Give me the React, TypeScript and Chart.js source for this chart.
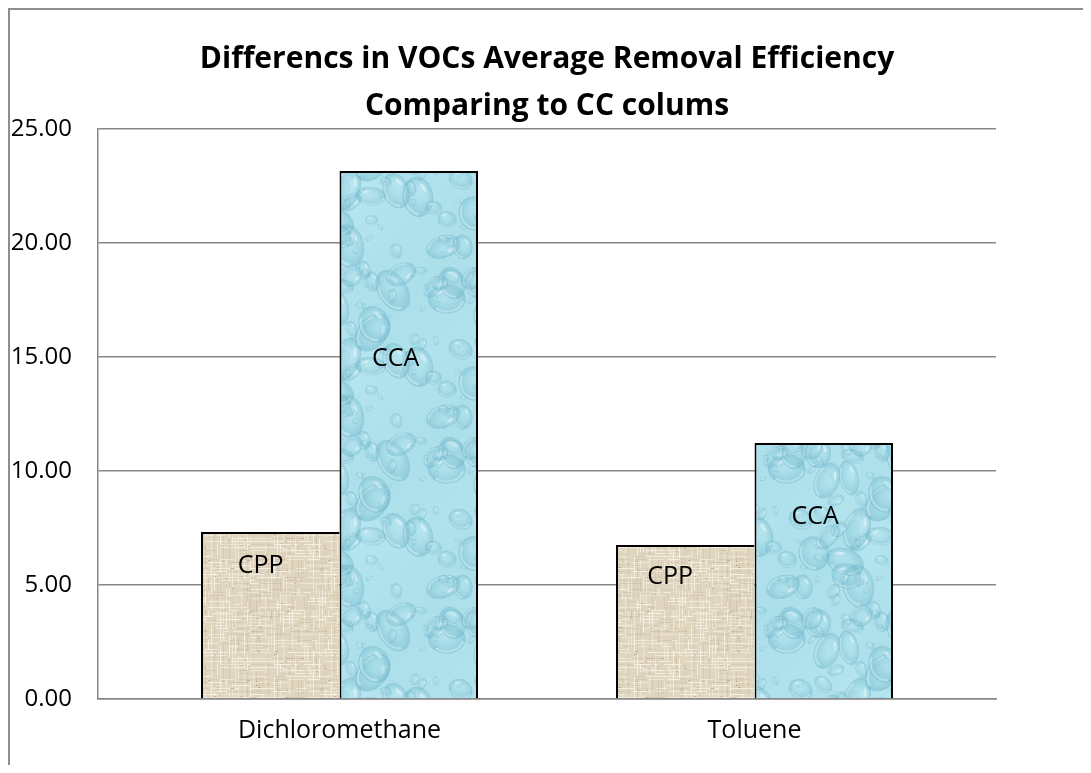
import React, { useEffect, useRef } from 'react';
import { Chart, registerables } from 'chart.js';

Chart.register(...registerables);

const categories = ['Dichloromethane', 'Toluene'];
const seriesNames = ['CPP', 'CCA'];
const cppValues = [7.32, 6.75];
const ccaValues = [23.16, 11.23];
const yTicks = [0, 5, 10, 15, 20, 25];
const titleLines = ['Differencs in VOCs Average Removal Efficiency', 'Comparing to CC colums'];

const FONT = "'Open Sans', 'Noto Sans', sans-serif";
const GRID = '#868686';

function rng(seed: number) {
  let a = seed;
  return () => {
    a |= 0;
    a = (a + 0x6d2b79f5) | 0;
    let t = Math.imul(a ^ (a >>> 15), 1 | a);
    t = (t + Math.imul(t ^ (t >>> 7), 61 | t)) ^ t;
    return ((t ^ (t >>> 14)) >>> 0) / 4294967296;
  };
}

function makeBurlap(ctx: CanvasRenderingContext2D) {
  const s = 120;
  const c = document.createElement('canvas');
  c.width = s;
  c.height = s;
  const g = c.getContext('2d')!;
  g.fillStyle = '#e0d5bf';
  g.fillRect(0, 0, s, s);
  const r = rng(7);
  const shades = [
    'rgba(250,246,236,0.75)',
    'rgba(246,241,230,0.6)',
    'rgba(250,247,240,0.5)',
    'rgba(175,158,128,0.25)',
    'rgba(200,186,160,0.35)',
  ];
  for (let x = 0; x < s; x += 3) {
    let y = 0;
    while (y < s) {
      const len = 3 + r() * 22;
      if (r() < 0.7) {
        g.fillStyle = shades[Math.floor(r() * shades.length)];
        g.fillRect(x, y, 1, len);
      }
      y += len + r() * 6;
    }
  }
  for (let y = 0; y < s; y += 3) {
    let x = 0;
    while (x < s) {
      const len = 3 + r() * 22;
      if (r() < 0.7) {
        g.fillStyle = shades[Math.floor(r() * shades.length)];
        g.fillRect(x, y, len, 1);
      }
      x += len + r() * 6;
    }
  }
  for (let i = 0; i < 70; i++) {
    g.fillStyle = 'rgba(140,122,95,0.35)';
    g.fillRect(Math.floor(r() * s), Math.floor(r() * s), 1 + Math.floor(r() * 3), 1);
  }
  return ctx.createPattern(c, 'repeat')!;
}

function drawDrop(g: CanvasRenderingContext2D, x: number, y: number, rad: number, squish: number, rot: number) {
  g.save();
  g.translate(x, y);
  g.rotate(rot);
  g.scale(1, squish);
  const rg = g.createRadialGradient(-rad * 0.25, -rad * 0.3, rad * 0.1, 0, 0, rad);
  rg.addColorStop(0, 'rgba(200,240,246,0.08)');
  rg.addColorStop(0.6, 'rgba(125,192,210,0.25)');
  rg.addColorStop(1, 'rgba(95,168,190,0.4)');
  g.fillStyle = rg;
  g.beginPath();
  g.arc(0, 0, rad, 0, Math.PI * 2);
  g.fill();
  g.strokeStyle = 'rgba(230,250,252,0.4)';
  g.lineWidth = Math.max(1, rad * 0.14);
  g.beginPath();
  g.arc(0, 0, rad * 0.86, 0.05 * Math.PI, 0.75 * Math.PI);
  g.stroke();
  g.fillStyle = 'rgba(255,255,255,0.4)';
  g.beginPath();
  g.ellipse(-rad * 0.4, -rad * 0.45, rad * 0.26, rad * 0.11, -0.6, 0, Math.PI * 2);
  g.fill();
  g.restore();
}

function makeWater(ctx: CanvasRenderingContext2D) {
  const s = 170;
  const c = document.createElement('canvas');
  c.width = s;
  c.height = s;
  const g = c.getContext('2d')!;
  const grad = g.createLinearGradient(0, 0, s, s);
  grad.addColorStop(0, '#b6e5ef');
  grad.addColorStop(0.5, '#abdfea');
  grad.addColorStop(1, '#b4e4ee');
  g.fillStyle = grad;
  g.fillRect(0, 0, s, s);
  const r = rng(11);
  const drops: number[][] = [];
  for (let i = 0; i < 85; i++) {
    const rr = r();
    drops.push([r() * s, r() * s, 3 + rr * rr * 22, 0.55 + r() * 0.35, r() * Math.PI]);
  }
  drops.sort((a, b) => b[2] - a[2]);
  for (const d of drops) {
    for (const ox of [-s, 0, s]) {
      for (const oy of [-s, 0, s]) {
        drawDrop(g, d[0] + ox, d[1] + oy, d[2], d[3], d[4]);
      }
    }
  }
  return ctx.createPattern(c, 'repeat')!;
}

const barLabelPlugin = {
  id: 'barLabels',
  afterDatasetsDraw(chart: any, _args: any, opts: any) {
    const { ctx } = chart;
    const y = chart.scales.y;
    ctx.save();
    ctx.font = `25px ${FONT}`;
    ctx.fillStyle = '#000';
    ctx.textAlign = 'center';
    ctx.textBaseline = 'middle';
    chart.data.datasets.forEach((ds: any, di: number) => {
      const meta = chart.getDatasetMeta(di);
      meta.data.forEach((bar: any, j: number) => {
        ctx.fillText(ds.label, bar.x + opts.dx[di][j], y.getPixelForValue(opts.at[di][j]));
      });
    });
    ctx.restore();
  },
};

export default function App() {
  const ref = useRef<HTMLCanvasElement>(null);
  useEffect(() => {
    const canvas = ref.current!;
    const ctx = canvas.getContext('2d')!;
    const burlap = makeBurlap(ctx);
    const water = makeWater(ctx);
    const chart = new Chart(canvas, {
      type: 'bar',
      data: {
        datasets: [
          {
            label: seriesNames[0],
            data: cppValues.map((v, i) => ({ x: i, y: v })),
            backgroundColor: burlap,
            borderColor: '#000',
            borderWidth: { top: 2, left: 2, right: 0, bottom: 0 },
            borderSkipped: false,
            inflateAmount: 0,
          },
          {
            label: seriesNames[1],
            data: ccaValues.map((v, i) => ({ x: i, y: v })),
            backgroundColor: water,
            borderColor: '#000',
            borderWidth: { top: 2, left: 2, right: 2, bottom: 0 },
            borderSkipped: false,
            inflateAmount: 0,
          },
        ],
      } as any,
      options: {
        responsive: false,
        animation: false,
        layout: { padding: { left: 0, right: 87, top: 0, bottom: 0 } },
        datasets: { bar: { categoryPercentage: 0.6675, barPercentage: 1 } },
        plugins: {
          legend: { display: false },
          tooltip: { enabled: false },
          title: {
            display: true,
            fullSize: false,
            text: titleLines,
            color: '#000',
            font: { family: FONT, size: 30, weight: 'bold', lineHeight: '47px' },
            padding: { top: 26, bottom: -1 },
          },
          barLabels: {
            dx: [[-9.5, -15], [-13, -8.5]],
            at: [[5.83, 5.35], [14.9, 8.0]],
          },
        } as any,
        scales: {
          x: {
            type: 'linear',
            min: -0.58193,
            max: 1.58193,
            bounds: 'data',
            offset: false,
            grid: { display: false, offset: false, drawTicks: false },
            border: { display: true, color: GRID, width: 1.5 },
            afterBuildTicks: (s: any) => {
              s.ticks = categories.map((_, i) => ({ value: i }));
            },
            afterFit: (s: any) => {
              s.height = 66;
            },
            ticks: {
              callback: (v: any) => categories[v] ?? '',
              padding: 17,
              maxRotation: 0,
              autoSkip: false,
              color: '#000',
              font: { family: FONT, size: 25 },
            },
          },
          y: {
            min: 0,
            max: 25,
            afterBuildTicks: (s: any) => {
              s.ticks = yTicks.map((v) => ({ value: v }));
            },
            afterFit: (s: any) => {
              s.width = 88;
            },
            grid: { color: GRID, lineWidth: 1.5, drawTicks: false },
            border: { display: true, color: GRID, width: 1.5 },
            ticks: {
              padding: 26,
              callback: (v: any) => Number(v).toFixed(2),
              color: '#000',
              font: { family: FONT, size: 24 },
            },
          },
        } as any,
      },
      plugins: [barLabelPlugin],
    });
    return () => chart.destroy();
  }, []);

  return (
    <div
      style={{
        borderLeft: '2px solid #8e8e8e',
        borderTop: '2px solid #8e8e8e',
        width: 1073,
        height: 755,
        background: '#fff',
      }}
    >
      <canvas ref={ref} width={1073} height={755} style={{ display: 'block', width: 1073, height: 755 }} />
    </div>
  );
}
